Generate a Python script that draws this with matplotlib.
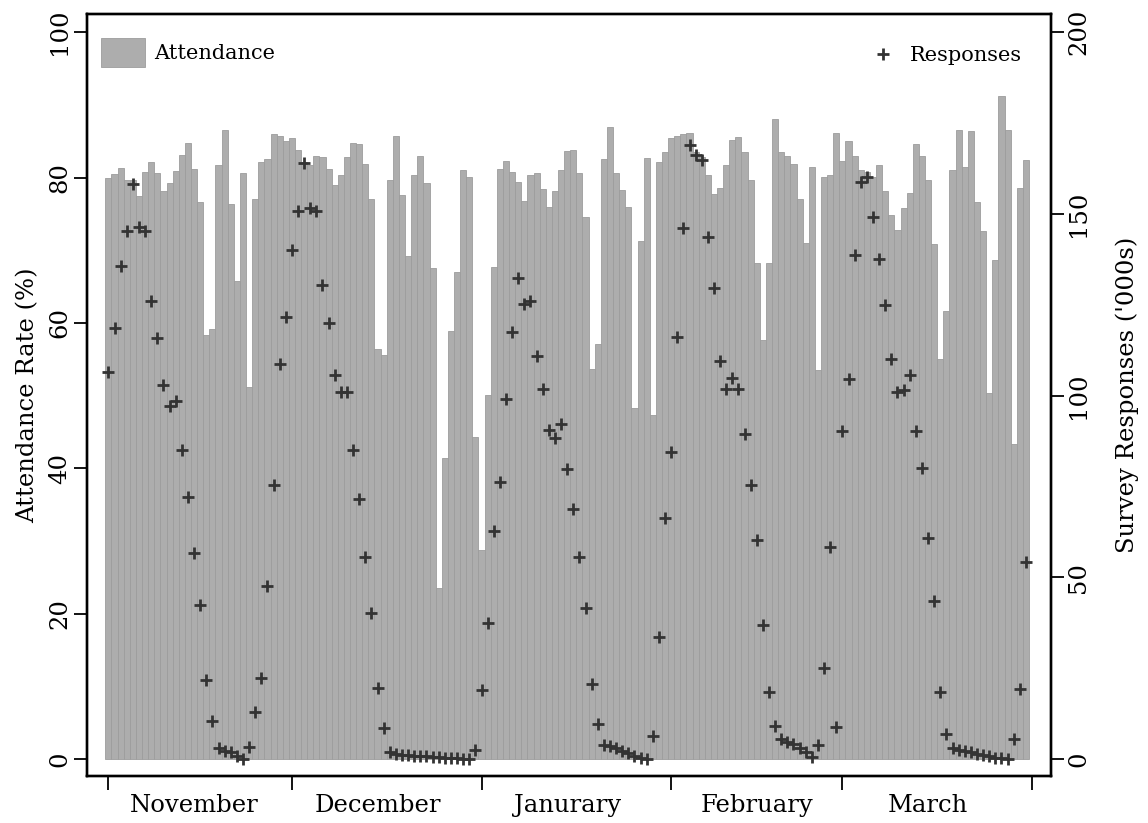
import matplotlib.pyplot as plt
import numpy as np

# daily attendance rate (%), 1 Nov - 31 Mar
attendance = [
    79.9, 80.5, 81.3, 79.7, 79.6, 77.5, 80.8, 82.2, 80.6, 78.2,
    79.3, 80.9, 83.1, 84.8, 81.2, 76.7, 58.3, 59.1, 81.7, 86.5,
    76.4, 65.7, 80.6, 51.2, 77.0, 82.2, 82.5, 86.0, 85.7, 85.0,
    85.4, 83.8, 82.1, 81.7, 82.9, 82.8, 81.2, 79.0, 80.3, 82.8,
    84.8, 84.6, 81.8, 77.0, 56.4, 55.6, 79.7, 85.7, 77.6, 69.2,
    80.4, 83.0, 79.3, 67.6, 23.5, 41.4, 58.9, 67.0, 81.1, 80.1,
    44.3, 28.7, 50.1, 67.7, 81.2, 82.3, 80.8, 79.4, 76.8, 80.4,
    80.6, 78.4, 76.0, 78.2, 81.1, 83.6, 83.8, 80.6, 74.6, 53.7,
    57.1, 82.5, 86.9, 80.6, 78.3, 76.0, 48.3, 71.3, 82.7, 47.3,
    82.2, 83.5, 85.4, 85.7, 86.0, 86.1, 83.5, 82.8, 80.4, 77.8,
    78.6, 81.7, 85.1, 85.6, 83.5, 79.7, 68.2, 57.6, 68.2, 88.1,
    83.5, 83.0, 81.9, 77.0, 71.0, 81.5, 53.5, 80.1, 80.3, 86.1,
    82.3, 85.0, 83.0, 81.0, 80.7, 80.1, 81.7, 78.1, 74.9, 72.8,
    75.8, 77.9, 84.6, 83.0, 79.6, 70.8, 55.0, 61.7, 81.0, 86.5,
    81.5, 86.4, 76.6, 72.6, 50.4, 68.6, 91.2, 86.5, 43.3, 78.5,
    82.4,
]

# daily survey responses ('000s)
responses = [
    106.5, 118.7, 135.6, 145.3, 158.2, 146.3, 145.3, 126.1, 115.8, 102.9,
    97.2, 98.6, 85.0, 72.0, 56.7, 42.3, 21.8, 10.4, 3.0, 2.3,
    1.8, 0.8, 0.0, 3.4, 12.8, 22.4, 47.5, 75.4, 108.8, 121.5,
    140.1, 150.7, 164.0, 151.7, 150.7, 130.3, 120.0, 105.6, 101.0, 101.0,
    85.0, 71.6, 55.5, 40.3, 19.4, 8.4, 1.8, 1.5, 1.2, 1.0,
    0.9, 0.8, 0.7, 0.6, 0.5, 0.4, 0.3, 0.2, 0.1, 0.1,
    2.6, 18.9, 37.5, 62.7, 76.2, 99.1, 117.6, 132.4, 125.3, 125.9,
    111.0, 101.7, 90.6, 88.3, 92.2, 79.9, 68.8, 55.5, 41.5, 20.7,
    9.6, 3.9, 3.6, 3.0, 2.2, 1.6, 0.8, 0.4, 0.0, 6.3,
    33.7, 66.4, 84.6, 116.0, 146.0, 169.0, 166.3, 164.8, 143.6, 129.7,
    109.4, 101.9, 104.9, 101.9, 89.5, 75.4, 60.3, 36.8, 18.5, 9.1,
    5.6, 4.8, 4.0, 3.0, 1.8, 0.6, 3.9, 25.1, 58.4, 8.7,
    90.3, 104.6, 138.7, 158.7, 160.2, 149.1, 137.6, 125.0, 110.0, 101.0,
    101.6, 105.6, 90.3, 80.1, 60.8, 43.4, 18.3, 6.8, 3.0, 2.6,
    2.3, 1.9, 1.5, 1.1, 0.7, 0.3, 0.2, 0.0, 5.4, 19.2,
    54.2,
]

month_names = ["November", "December", "Janurary", "February", "March"]
month_days = [30, 31, 31, 28, 31]

plt.rcParams['font.family'] = 'DejaVu Serif'

days = np.arange(len(attendance))
month_start = np.concatenate([[0], np.cumsum(month_days)])
month_mid = month_start[:-1] + 14  # 15th of each month

fig = plt.figure(figsize=(11.48, 8.23), dpi=100)
ax = fig.add_axes([87 / 1148, 47 / 823, 964 / 1148, 762 / 823])

ax.bar(days, attendance, width=1.0, color='#adadad', edgecolor='#9c9c9c',
       linewidth=0.6, label='Attendance')
ax.set_xlim(-3.5, 154.1)
ax.set_ylim(-2.34, 102.5)
ax.set_yticks(np.arange(0, 101, 20))
ax.tick_params(axis='y', direction='out', length=9.5, width=1.3,
               labelsize=17.5, labelrotation=90, pad=2)
for lab in ax.get_yticklabels():
    lab.set_va('center')
ax.set_ylabel('Attendance Rate (%)', fontsize=17.5)
ax.yaxis.set_label_coords(-0.0495, 0.5)

ax.set_xticks(month_start)
ax.set_xticklabels([])
ax.set_xticks(month_mid, minor=True)
ax.set_xticklabels(month_names, minor=True)
ax.tick_params(axis='x', which='major', direction='out', length=10, width=1.3)
ax.tick_params(axis='x', which='minor', length=0, labelsize=17.5, pad=13)

ax2 = ax.twinx()
ax2.plot(days, responses, linestyle='none', marker='+', markersize=8,
         mew=2.0, color='#333333', label='Responses')
ax2.set_ylim(-4.68, 205)
ax2.set_yticks(np.arange(0, 201, 50))
ax2.tick_params(axis='y', direction='out', length=9.5, width=1.3,
                labelsize=17.5, labelrotation=90, pad=2)
for lab in ax2.get_yticklabels():
    lab.set_va('center')
ax2.set_ylabel("Survey Responses ('000s)", fontsize=17.5)
ax2.yaxis.set_label_coords(1.067, 0.5)

for a in (ax, ax2):
    for s in a.spines.values():
        s.set_linewidth(1.7)

ax.legend(loc='upper left', bbox_to_anchor=(0.015, 0.9685), frameon=False,
          fontsize=15, handlelength=2.1, handleheight=1.75,
          handletextpad=0.45, borderpad=0, borderaxespad=0)
ax2.legend(loc='upper right', bbox_to_anchor=(0.97, 0.958), frameon=False,
           fontsize=15, handlelength=1.0, handletextpad=0.8,
           borderpad=0, borderaxespad=0)

fig.savefig('out.png', dpi=100)
